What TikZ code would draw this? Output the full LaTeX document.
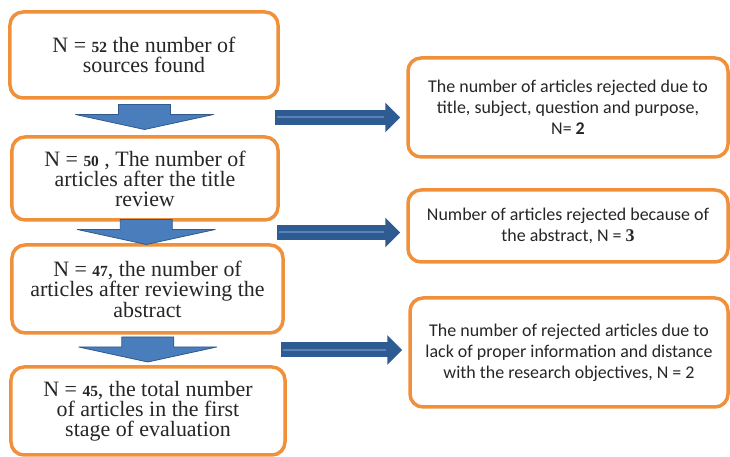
\documentclass[tikz,border=0pt]{standalone}
\usepackage{fontspec}
\setmainfont{Liberation Serif}
\newfontfamily\calib{Carlito}
\usetikzlibrary{calc,arrows.meta}
\definecolor{boxorange}{HTML}{F0903A}
\definecolor{arrblue}{HTML}{2E5B92}
\definecolor{arrlight}{HTML}{5A82B8}
\definecolor{downblue}{HTML}{4A7DBC}
\definecolor{downedge}{HTML}{30598C}
\newcommand{\nval}[1]{{\fontsize{15.5}{20}\selectfont\bfseries #1}}

\begin{document}
\begin{tikzpicture}[x=1bp, y=1bp,
    stage/.style={draw=boxorange, line width=3.5bp, rounded corners=13bp, fill=white, align=center,
                  font=\fontsize{22}{20}\selectfont, text=black!85, inner sep=2bp},
    reject/.style={stage, font=\calib\fontsize{18}{21}\selectfont},
    rarr/.style={arrblue, line width=15bp, -{Triangle[length=15bp, width=29bp]}},
    rarrhi/.style={arrlight, line width=2bp},
    darr/.style={fill=downblue, draw=downedge, line width=0.8bp, line join=round},
]
  \useasboundingbox (0,0) rectangle (730,457);

  % ---------------- stages (left column) ----------------
  \node[stage, minimum width=268bp, minimum height=86bp] (src) at (144, 402)
       {N =\ \nval{52}\ the number of\\sources found};
  \node[stage, minimum width=266bp, minimum height=83bp] (title) at (145, 278.5)
       {N = \nval{50} , The number of\\articles after the title\\review};
  \node[stage, minimum width=271bp, minimum height=88bp] (abstr) at (147.5, 168)
       {N = \nval{47}, the number of\\articles after reviewing the\\abstract};
  \node[stage, minimum width=274bp, minimum height=88bp] (total) at (148, 46)
       {N = \nval{45}, the total number\\of articles in the first\\stage of evaluation};

  % ---------------- rejections (right column) ----------------
  \node[reject, minimum width=320bp, minimum height=99bp] (rejT) at (568, 349.5)
       {The number of articles rejected due to\\title, subject, question and purpose,\\N= \textbf{2}};
  \node[reject, minimum width=320bp, minimum height=72bp] (rejA) at (568, 231)
       {Number of articles rejected because of\\the abstract, N = {\rmfamily\textbf{3}}};
  \node[reject, minimum width=318bp, minimum height=109bp] (rejI) at (569, 104.5)
       {The number of rejected articles due to\\lack of proper information and distance\\with the research objectives, N = 2};

  % ---------------- connectors ----------------
  % stage -> next stage: block arrows
  \foreach \a/\b [count=\i] in {src/title, title/abstr, abstr/total} {
    \coordinate (d\i) at ($(\a.south)!.5!(\b.north)$);
    \filldraw[darr] ([shift={(-26,13)}]d\i) -- ([shift={(26,13)}]d\i) -- ([shift={(26,3)}]d\i)
      -- ([shift={(69,3)}]d\i) -- ([shift={(0,-12)}]d\i) -- ([shift={(-69,3)}]d\i)
      -- ([shift={(-26,3)}]d\i) -- cycle;
  }
  % gap between stages -> rejected articles
  \foreach \a/\b/\r [count=\i] in {src/title/rejT, title/abstr/rejA, abstr/total/rejI} {
    \coordinate (g\i) at ($(\a.south east)!.5!(\b.north east)$);
    \coordinate (e\i) at (g\i -| \r.west);
    \draw[rarr] ([xshift=-5bp]g\i) -- ([xshift=-6bp]e\i);
    \draw[rarrhi] ([xshift=-3bp]g\i) -- ([xshift=-22bp]e\i);
  }
\end{tikzpicture}
\end{document}
